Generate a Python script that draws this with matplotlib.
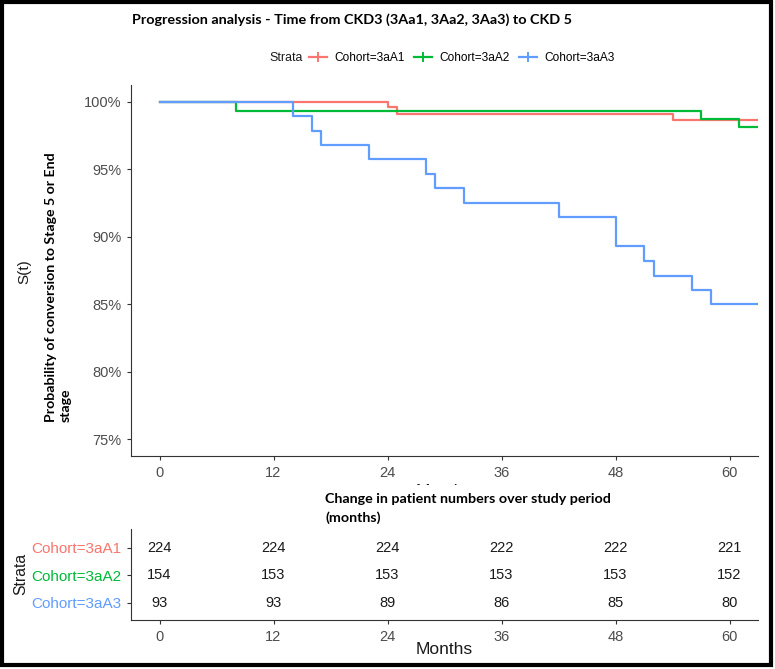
import matplotlib
matplotlib.use("Agg")
import matplotlib.pyplot as plt
from matplotlib.lines import Line2D
from matplotlib.patches import Rectangle
from matplotlib.ticker import FuncFormatter

plt.rcParams['font.family'] = ['Liberation Sans', 'DejaVu Sans']

# ---- data ----
cohorts = ["Cohort=3aA1", "Cohort=3aA2", "Cohort=3aA3"]
colors = ["#F8766D", "#00BA38", "#619CFF"]

red_t = [0, 24, 25, 54, 63]
red_s = [100, 99.63, 99.13, 98.68, 98.68]
green_t = [0, 8, 57, 61, 63]
green_s = [100, 99.35, 98.71, 98.12, 98.12]
blue_t = [0, 14, 16, 17, 22, 28, 29, 32, 42, 48, 51, 52, 56, 58, 63]
blue_s = [100, 98.98, 97.84, 96.83, 95.74, 94.65, 93.58, 92.47, 91.5, 89.3,
          88.2, 87.06, 86.07, 84.98, 84.98]

risk_times = [0, 12, 24, 36, 48, 60]
risk_3aA1 = [224, 224, 224, 222, 222, 221]
risk_3aA2 = [154, 153, 153, 153, 153, 152]
risk_3aA3 = [93, 93, 89, 86, 85, 80]

y_ticks = [75, 80, 85, 90, 95, 100]

W, H = 775, 669
fig = plt.figure(figsize=(W / 100, H / 100), dpi=100)

def fx(px):
    return px / W

def fy(py):
    return 1 - py / H

spine_col = "#333333"
tick_col = "#4D4D4D"

# ---- survival plot ----
ax = fig.add_axes([fx(131), fy(456), fx(758) - fx(131), fy(85) - fy(456)])
for t, s, c in zip([red_t, green_t, blue_t], [red_s, green_s, blue_s], colors):
    ax.step(t, s, where="post", color=c, lw=1.6)
ax.set_xlim(-3, 63)
ax.set_ylim(73.75, 101.25)
ax.set_xticks(risk_times)
ax.set_yticks(y_ticks)
ax.yaxis.set_major_formatter(FuncFormatter(lambda v, p: f"{v:.0f}%"))
for sp in ["top", "right"]:
    ax.spines[sp].set_visible(False)
for sp in ["left", "bottom"]:
    ax.spines[sp].set_color(spine_col)
    ax.spines[sp].set_linewidth(0.8)
ax.tick_params(axis="both", colors=spine_col, labelcolor=tick_col, labelsize=10.5,
               length=3, width=0.8)
ax.tick_params(axis="x", pad=4)
ax.tick_params(axis="y", pad=4)

# ---- risk table ----
axt = fig.add_axes([fx(131), fy(620), fx(758) - fx(131), fy(529) - fy(620)])
axt.set_xlim(-3, 63)
axt.set_ylim(0.38, 3.69)
rows = [risk_3aA1, risk_3aA2, risk_3aA3]
ypos = [3, 2, 1]
for vals, yp in zip(rows, ypos):
    for t, v in zip(risk_times, vals):
        axt.text(t, yp, str(v), ha="center", va="center", fontsize=10.5, color="#1a1a1a")
axt.set_xticks(risk_times)
axt.set_yticks(ypos)
for sp in ["top", "right"]:
    axt.spines[sp].set_visible(False)
for sp in ["left", "bottom"]:
    axt.spines[sp].set_color(spine_col)
    axt.spines[sp].set_linewidth(0.8)
axt.tick_params(axis="both", colors=spine_col, labelsize=10.5, length=3, width=0.8, pad=4)
axt.tick_params(axis="x", labelcolor=tick_col)
axt.tick_params(axis="y", labelsize=11)
axt.set_yticklabels(cohorts)
for lab, c in zip(axt.get_yticklabels(), colors):
    lab.set_color(c)

# ---- texts ----
bold_font = ["Lato", "DejaVu Sans"]
fig.text(fx(132), fy(20), "Progression analysis - Time from CKD3 (3Aa1, 3Aa2, 3Aa3) to CKD 5",
         family=bold_font, fontweight="bold", fontsize=10.4, ha="left", va="center")

fig.text(fx(269), fy(58), "Strata", fontsize=8.9, ha="left", va="center", color="#1a1a1a")
handles = [Line2D([0], [0], color=c, lw=1.6, marker="+", markersize=7, markeredgewidth=1.4)
           for c in colors]
fig.legend(handles, cohorts, loc="center left", bbox_to_anchor=(fx(309), fy(58)), ncol=3,
           frameon=False, fontsize=8.6, handlelength=1.5, handletextpad=0.6,
           columnspacing=0.8, borderpad=0, borderaxespad=0)

fig.text(fx(24), fy(272), "S(t)", rotation=90, fontsize=11, ha="center", va="center",
         color="#1a1a1a")
fig.text(fx(58), fy(287), "Probability of conversion to Stage 5 or End\nstage", rotation=90,
         family=bold_font, fontweight="bold", fontsize=10.2, ha="center",
         va="center", multialignment="left", linespacing=1.25)

# partially hidden "Months" label of the top plot
fig.text(fx(444), fy(491), "Months", fontsize=12.5, ha="center", va="center", color="#1a1a1a",
         zorder=0.5)
fig.patches.append(Rectangle((fx(290), fy(528)), fx(660) - fx(290), fy(485) - fy(528),
                             transform=fig.transFigure, facecolor="white", edgecolor="none",
                             zorder=1))
fig.text(fx(325), fy(499), "Change in patient numbers over study period",
         family=bold_font, fontweight="bold", fontsize=10.3, ha="left",
         va="center", zorder=3)
fig.text(fx(325), fy(518), "(months)",
         family=bold_font, fontweight="bold", fontsize=10.3, ha="left",
         va="center", zorder=3)

fig.text(fx(444), fy(649), "Months", fontsize=12.5, ha="center", va="center", color="#1a1a1a")
fig.text(fx(21), fy(574), "Strata", rotation=90, fontsize=11.3, ha="center", va="center",
         color="#1a1a1a")

# outer frame
fig.patches.append(Rectangle((fx(2), fy(665)), fx(771) - fx(2), fy(2) - fy(665),
                             transform=fig.transFigure, facecolor="none", edgecolor="black",
                             lw=3, zorder=5))

fig.savefig("out.png", dpi=100)
